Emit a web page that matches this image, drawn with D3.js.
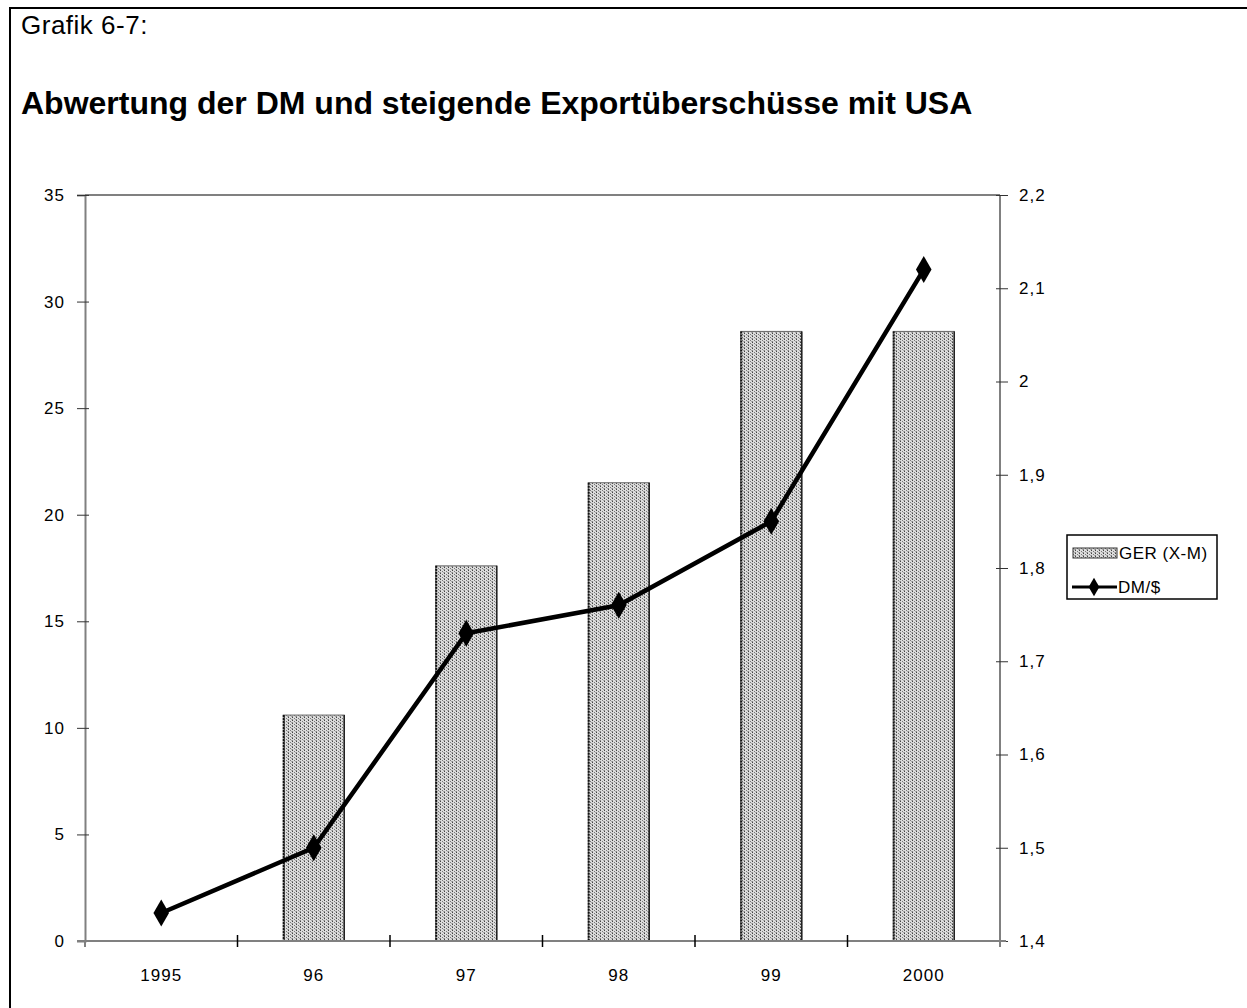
<!DOCTYPE html>
<html>
<head>
<meta charset="utf-8">
<script src="https://cdn.jsdelivr.net/npm/d3@7"></script>
<style>
  html, body { margin: 0; padding: 0; background: #fff; }
  svg { display: block; }
</style>
</head>
<body>
<svg id="chart" width="1247" height="1008"></svg>
<script>
// Jahre, Exportüberschuss Deutschland–USA (Mrd.) und Wechselkurs DM/$
const years = ["1995", "96", "97", "98", "99", "2000"];
const surplus = [0, 10.6, 17.6, 21.5, 28.6, 28.6];
const rate = [1.43, 1.50, 1.73, 1.76, 1.85, 2.12];
const leftTicks = [0, 5, 10, 15, 20, 25, 30, 35];
const rightTicks = [1.4, 1.5, 1.6, 1.7, 1.8, 1.9, 2.0, 2.1, 2.2];
const seriesNames = ["GER (X-M)", "DM/$"];

const svg = d3.select("#chart");
const font = "'Liberation Sans', Arial, sans-serif";
const tickFont = `17px ${font}`;

// Rahmen um die ganze Grafik
svg.append("rect")
  .attr("x", 10).attr("y", 8).attr("width", 1260).attr("height", 1040)
  .attr("fill", "none").attr("stroke", "#000").attr("stroke-width", 2);

svg.append("text").attr("x", 21).attr("y", 34)
  .style("font", `26px ${font}`).style("letter-spacing", "0.5px").text("Grafik 6-7:");
svg.append("text").attr("x", 21).attr("y", 114)
  .style("font", `bold 32px ${font}`)
  .text("Abwertung der DM und steigende Exportüberschüsse mit USA");

// Punktraster für die Säulen
const defs = svg.append("defs");
const pat = defs.append("pattern").attr("id", "stipple")
  .attr("patternUnits", "userSpaceOnUse").attr("width", 4).attr("height", 3);
pat.append("rect").attr("width", 4).attr("height", 3).attr("fill", "#dcdcdc");
pat.append("rect").attr("x", 0).attr("y", 0).attr("width", 1).attr("height", 1).attr("fill", "#444");
pat.append("rect").attr("x", 2).attr("y", 1).attr("width", 1).attr("height", 1).attr("fill", "#777");
pat.append("rect").attr("x", 0).attr("y", 2).attr("width", 1).attr("height", 1).attr("fill", "#888");
pat.append("rect").attr("x", 3).attr("y", 2).attr("width", 1).attr("height", 1).attr("fill", "#aaa");

const L = 85, R = 1000, T = 195, B = 941;

const x = d3.scaleBand().domain(years).range([L, R]).paddingInner(0.6).paddingOuter(0.3);
const xStep = d3.scaleBand().domain(years).range([L, R]);
const yL = d3.scaleLinear().domain([0, 35]).range([B, T]);
const yR = d3.scaleLinear().domain([1.4, 2.2]).range([B, T]);

// Säulen
const bars = svg.append("g");
years.forEach((yr, i) => {
  if (surplus[i] <= 0) return;
  const x0 = x(yr), w = x.bandwidth(), y0 = yL(surplus[i]);
  bars.append("rect").attr("x", x0).attr("y", y0).attr("width", w).attr("height", B - y0)
    .attr("fill", "url(#stipple)").attr("stroke", "#666").attr("stroke-width", 1);
  bars.append("line").attr("x1", x0 + 0.5).attr("x2", x0 + 0.5).attr("y1", y0).attr("y2", B)
    .attr("stroke", "#111").attr("stroke-width", 2).attr("stroke-dasharray", "2,1");
  bars.append("line").attr("x1", x0 + w).attr("x2", x0 + w).attr("y1", y0).attr("y2", B)
    .attr("stroke", "#222").attr("stroke-width", 1.5);
});

// Achsenlinien
const axisColor = "#808080";
svg.append("line").attr("x1", L).attr("x2", R).attr("y1", T).attr("y2", T).attr("stroke", axisColor).attr("stroke-width", 2);
svg.append("line").attr("x1", R).attr("x2", R).attr("y1", T).attr("y2", B).attr("stroke", axisColor).attr("stroke-width", 2);

// Linke Achse
const gl = svg.append("g").attr("transform", `translate(${L},0)`)
  .call(d3.axisLeft(yL).tickValues(leftTicks).tickSize(8).tickPadding(12).tickFormat(d3.format("d")));
gl.select(".domain").attr("stroke", axisColor).attr("stroke-width", 2);
gl.selectAll(".tick line").attr("stroke", "#333").attr("x2", -8).attr("x1", 4);
gl.selectAll(".tick text").style("font", tickFont).style("letter-spacing", "1px").attr("fill", "#000");

// Rechte Achse
const gr = svg.append("g").attr("transform", `translate(${R},0)`)
  .call(d3.axisRight(yR).tickValues(rightTicks).tickSize(8).tickPadding(11)
    .tickFormat(d => d3.format(".1~f")(d).replace(".", ",")));
gr.select(".domain").remove();
gr.selectAll(".tick line").attr("stroke", "#333").attr("x1", -4);
gr.selectAll(".tick text").style("font", tickFont).style("letter-spacing", "1px").attr("fill", "#000");

// Untere Achse
svg.append("line").attr("x1", L - 8).attr("x2", R + 6).attr("y1", B).attr("y2", B).attr("stroke", axisColor).attr("stroke-width", 2);
const gb = svg.append("g").attr("transform", `translate(0,${B})`);
years.slice(1).forEach(yr => {
  gb.append("line").attr("x1", xStep(yr)).attr("x2", xStep(yr)).attr("y1", -6).attr("y2", 6)
    .attr("stroke", "#000").attr("stroke-width", 1.5);
});
gb.append("line").attr("x1", L).attr("x2", L).attr("y1", 0).attr("y2", 6).attr("stroke", axisColor).attr("stroke-width", 2);
gb.append("line").attr("x1", R).attr("x2", R).attr("y1", 0).attr("y2", 6).attr("stroke", axisColor).attr("stroke-width", 2);
gb.selectAll("text.cat").data(years).join("text").attr("class", "cat")
  .attr("x", d => xStep(d) + xStep.bandwidth() / 2).attr("y", 40)
  .attr("text-anchor", "middle").style("font", tickFont).style("letter-spacing", "1px").text(d => d);

// Wechselkurslinie
const cx = d => xStep(d) + xStep.bandwidth() / 2;
const line = d3.line().x((d, i) => cx(years[i])).y(d => yR(d));
svg.append("path").datum(rate).attr("d", line)
  .attr("fill", "none").attr("stroke", "#000").attr("stroke-width", 4.5).attr("stroke-linejoin", "round");
const diamond = d3.symbol().type(d3.symbolDiamond).size(210);
svg.selectAll("path.mk").data(rate).join("path").attr("class", "mk")
  .attr("transform", (d, i) => `translate(${cx(years[i])},${yR(d)})`)
  .attr("d", diamond).attr("fill", "#000");

// Legende
const lg = svg.append("g").attr("transform", "translate(1067,535)");
lg.append("rect").attr("width", 150).attr("height", 64).attr("fill", "#fff").attr("stroke", "#000").attr("stroke-width", 1.5);
lg.append("rect").attr("x", 6).attr("y", 13).attr("width", 44).attr("height", 10)
  .attr("fill", "url(#stipple)").attr("stroke", "#333").attr("stroke-width", 1);
lg.append("text").attr("x", 52).attr("y", 24).style("font", tickFont).style("letter-spacing", "0.5px").text(seriesNames[0]);
lg.append("line").attr("x1", 5).attr("x2", 50).attr("y1", 52).attr("y2", 52).attr("stroke", "#000").attr("stroke-width", 3);
lg.append("path").attr("transform", "translate(27,52)").attr("d", d3.symbol().type(d3.symbolDiamond).size(100)).attr("fill", "#000");
lg.append("text").attr("x", 51).attr("y", 58).style("font", tickFont).style("letter-spacing", "0.5px").text(seriesNames[1]);
</script>
</body>
</html>
